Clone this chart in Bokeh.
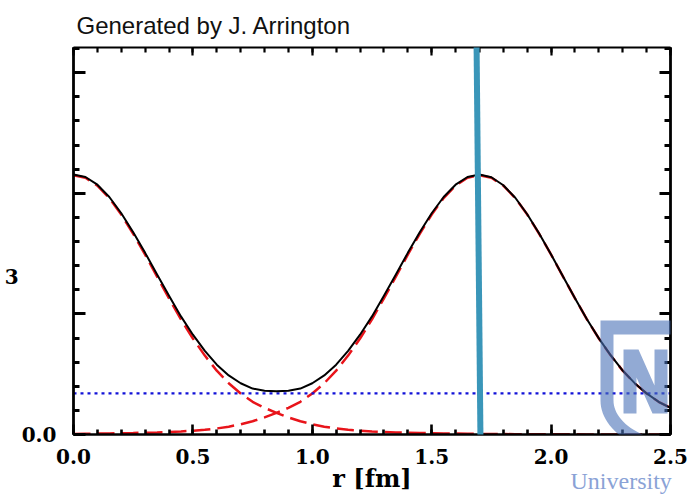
import math
from bokeh.plotting import figure
from bokeh.models import (FixedTicker, LinearAxis, Range1d, PolyAnnotation, Title,
                          PrintfTickFormatter, CustomJSTickFormatter, ColumnDataSource)
from bokeh.embed import file_html
from bokeh.resources import INLINE

# ---------------- data ----------------
R = [0.00, 0.05, 0.10, 0.15, 0.20, 0.25, 0.30, 0.35, 0.40, 0.45,
     0.50, 0.55, 0.60, 0.65, 0.70, 0.75, 0.80, 0.85, 0.90, 0.95,
     1.00, 1.05, 1.10, 1.15, 1.20, 1.25, 1.30, 1.35, 1.40, 1.45,
     1.50, 1.55, 1.60, 1.65, 1.70, 1.75, 1.80, 1.85, 1.90, 1.95,
     2.00, 2.05, 2.10, 2.15, 2.20, 2.25, 2.30, 2.35, 2.40, 2.45, 2.50]

# left component (red dashed)
G1 = [258, 255.4, 247.6, 235.2, 218.8, 199.7, 178.9, 157.0, 135.5, 114.5,
      95.5, 78.5, 63.5, 51.0, 40.8, 32.5, 26.5, 21.5, 17.0, 13.2,
      10.2, 7.8, 6.0, 4.7, 3.8, 3.0, 2.5, 2.1, 1.8, 1.5,
      1.3, 1.1, 0.9, 0.75, 0.6, 0.5, 0.4, 0.35, 0.3, 0.25,
      0.2, 0.18, 0.15, 0.12, 0.1, 0.1, 0.08, 0.07, 0.06, 0.05, 0.05]

# right component (red dashed)
G2 = [0.6, 0.75, 0.9, 1.1, 1.3, 1.5, 1.8, 2.1, 2.5, 3.0,
      3.8, 4.7, 6.0, 7.8, 10.2, 13.2, 17.0, 21.5, 26.5, 32.5,
      40.8, 51.0, 63.5, 78.5, 95.5, 114.5, 135.5, 157.0, 178.9, 199.7,
      218.8, 235.2, 247.6, 255.4, 258, 255.4, 247.6, 235.2, 218.8, 199.7,
      178.9, 157.0, 135.5, 114.5, 95.5, 78.5, 63.5, 51.0, 40.8, 32.5, 26.5]

# total (black solid)
TOTAL = [258.6, 256.15, 248.5, 236.3, 220.1, 201.2, 180.7, 159.1, 138.0, 117.5,
         99.3, 83.2, 69.5, 58.8, 51.0, 45.7, 43.5, 43.0, 43.5, 45.7,
         51.0, 58.8, 69.5, 83.2, 99.3, 117.5, 138.0, 159.1, 180.7, 201.2,
         220.1, 236.3, 248.5, 256.15, 258.6, 255.9, 248.0, 235.55, 219.1, 199.95,
         179.1, 157.18, 135.65, 114.62, 95.6, 78.6, 63.58, 51.07, 40.86, 32.55, 26.55]

BLUE_X = [0.0, 2.5]
BLUE_Y = [41, 41]

TEAL_X0, TEAL_Y0 = [1.688], [385]
TEAL_X1, TEAL_Y1 = [1.704], [0]

X_MAJOR = [0.0, 0.5, 1.0, 1.5, 2.0, 2.5]
X_MINOR = [round(0.1 * k, 1) for k in range(26)]
Y_MAJOR = [0, 120, 240, 360]
Y_MINOR = [24 * k for k in range(17)]

XR = (0.0, 2.5)
YR = (0.0, 385.0)

# frame placement on the canvas (px)
FL, FR, FT, FB = 73, 670, 47, 434
W, H = 692, 496


def dx(px):
    return XR[0] + (px - FL) * (XR[1] - XR[0]) / (FR - FL)


def dy(py):
    return YR[0] + (FB - py) * (YR[1] - YR[0]) / (FB - FT)


p = figure(width=W, height=H, x_range=Range1d(*XR), y_range=Range1d(*YR),
           output_backend="svg", toolbar_location=None,
           min_border_left=FL, min_border_right=W - FR,
           min_border_top=FT, min_border_bottom=H - FB)
p.outline_line_color = None
p.xgrid.visible = False
p.ygrid.visible = False
p.background_fill_color = "white"
p.border_fill_color = "white"

# title (top left)
p.title.text = "Generated by J. Arrington"
p.title.text_font = "Liberation Sans"
p.title.text_font_style = "normal"
p.title.text_font_size = "24px"
p.title.text_color = "#111111"
p.title.align = "left"
p.title.offset = 3
p.title.standoff = 18


def style(ax, major_in, minor_in, lw):
    ax.axis_line_color = "black"
    ax.axis_line_width = lw
    ax.major_tick_in = major_in
    ax.major_tick_out = 0
    ax.minor_tick_in = minor_in
    ax.minor_tick_out = 0
    ax.major_tick_line_width = lw
    ax.minor_tick_line_width = lw
    ax.major_tick_line_color = "black"
    ax.minor_tick_line_color = "black"


xt = FixedTicker(ticks=X_MAJOR, minor_ticks=X_MINOR)
yt = FixedTicker(ticks=Y_MAJOR, minor_ticks=Y_MINOR)

bx = p.xaxis[0]
bx.ticker = xt
bx.formatter = PrintfTickFormatter(format="%.1f")
style(bx, 10, 5, 2.6)
bx.major_label_text_font = "DejaVu Serif"
bx.major_label_text_font_style = "bold"
bx.major_label_text_font_size = "20px"
bx.major_label_text_color = "black"
bx.major_label_standoff = 14
bx.axis_label = "r [fm]"
bx.axis_label_text_font = "DejaVu Serif"
bx.axis_label_text_font_style = "bold"
bx.axis_label_text_font_size = "24px"
bx.axis_label_text_color = "black"
bx.axis_label_standoff = -3

ly = p.yaxis[0]
ly.ticker = yt
ly.formatter = CustomJSTickFormatter(code="return tick == 0 ? '0.0' : '';")
style(ly, 12, 6, 2.8)
ly.major_label_text_font = "DejaVu Serif"
ly.major_label_text_font_style = "bold"
ly.major_label_text_font_size = "20px"
ly.major_label_text_color = "black"
ly.major_label_standoff = 17
ly.axis_label = "\n\n\n3"
ly.axis_label_orientation = "horizontal"
ly.axis_label_text_font = "DejaVu Serif"
ly.axis_label_text_font_style = "bold"
ly.axis_label_text_font_size = "20px"
ly.axis_label_text_line_height = 1.0
ly.axis_label_text_color = "black"
ly.axis_label_standoff = 0

top = LinearAxis(ticker=xt, formatter=CustomJSTickFormatter(code="return '';"),
                 major_label_text_font_size="0px", major_label_standoff=0)
style(top, 8, 5, 2.2)
p.add_layout(top, "above")

right = LinearAxis(ticker=yt, formatter=CustomJSTickFormatter(code="return '';"),
                   major_label_text_font_size="0px", major_label_standoff=0)
style(right, 11, 6, 2.8)
p.add_layout(right, "right")

src = ColumnDataSource(dict(r=R, g1=G1, g2=G2, tot=TOTAL))
RED = "#e8141a"
p.line("r", "g1", source=src, line_color=RED, line_width=2.5, line_dash="17 7")
p.line("r", "g2", source=src, line_color=RED, line_width=2.5, line_dash="17 7")
p.line(BLUE_X, BLUE_Y, line_color="#1212d8", line_width=2.2, line_dash="3 4")
p.line("r", "tot", source=src, line_color="black", line_width=2, line_join="round")
teal = p.segment(x0=TEAL_X0, y0=TEAL_Y0, x1=TEAL_X1, y1=TEAL_Y1,
                 line_color="#3a96b9", line_width=6)
teal.level = "overlay"

# ---------------- logo (semi transparent overlay) ----------------
LOGO_COLOR = "#4a72b8"
LOGO_ALPHA = 0.6


def arc(cx, cy, rx, ry, a0, a1, n=28):
    pts = []
    for k in range(n + 1):
        a = math.radians(a0 + (a1 - a0) * k / n)
        pts.append((cx + rx * math.cos(a), cy + ry * math.sin(a)))
    return pts


u_shape = ([(600, 320), (700, 320), (700, 334), (613, 334), (613, 400)]
           + arc(692, 400, 79, 44, 180, 90)
           + [(700, 444), (700, 457)]
           + arc(692, 400, 92, 57, 90, 180))
n_shape = [(623, 349), (638, 349), (654, 385), (654, 349), (667, 349),
           (667, 413), (652, 413), (636, 377), (636, 413), (623, 413)]

for shape in (u_shape, n_shape):
    p.add_layout(PolyAnnotation(xs=[dx(a) for a, b in shape], ys=[dy(b) for a, b in shape],
                                fill_color=LOGO_COLOR, fill_alpha=LOGO_ALPHA,
                                line_color=None))

# "University" caption under the logo
uni = Title(text="University", text_font="Liberation Serif", text_font_size="24px",
            text_font_style="normal", text_color="#8aa2d6", align="left",
            offset=497, vertical_align="top", standoff=-55)
p.add_layout(uni, "below")

open("out.html", "w").write(file_html(p, INLINE))
